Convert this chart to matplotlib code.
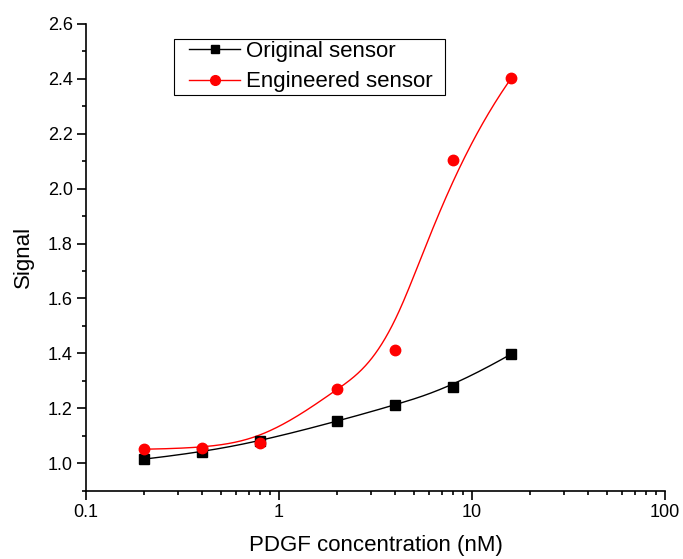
import numpy as np
import matplotlib
matplotlib.use("Agg")
import matplotlib.pyplot as plt
from matplotlib.patches import Rectangle
from matplotlib.ticker import FixedLocator, NullFormatter, MultipleLocator

plt.rcParams['font.family'] = ['Liberation Sans', 'DejaVu Sans']

conc = [0.2, 0.4, 0.8, 2, 4, 8, 16]
original = [1.015, 1.040, 1.080, 1.153, 1.212, 1.278, 1.398]
engineered = [1.051, 1.055, 1.073, 1.270, 1.413, 2.103, 2.403]


def bspline(x, y, n=400):
    # clamped cubic B-spline using the points as control points (log x),
    # like Origin's "B-Spline" line connection
    px = np.log10(np.asarray(x, float))
    py = np.asarray(y, float)
    k = 3
    m = len(px)
    knots = np.concatenate([np.zeros(k), np.arange(m - k + 1), np.full(k, m - k)]).astype(float)
    t = np.linspace(0, m - k, n)
    t[-1] -= 1e-9

    def basis(i, d, t):
        if d == 0:
            return ((knots[i] <= t) & (t < knots[i + 1])).astype(float)
        out = np.zeros_like(t)
        den = knots[i + d] - knots[i]
        if den > 0:
            out += (t - knots[i]) / den * basis(i, d - 1, t)
        den = knots[i + d + 1] - knots[i + 1]
        if den > 0:
            out += (knots[i + d + 1] - t) / den * basis(i + 1, d - 1, t)
        return out

    B = np.array([basis(i, k, t) for i in range(m)])
    return 10 ** (px @ B), py @ B


W, H = 683, 559
fig = plt.figure(figsize=(W / 100, H / 100), dpi=100)
ax = fig.add_axes([0.126, 0.1222, 0.8476, 0.835])

ox, oy = bspline(conc, original)
ex, ey = bspline(conc, engineered)
ax.plot(ox, oy, color='black', lw=1)
ax.plot(ex, ey, color='red', lw=1)
ax.plot(conc, original, 's', color='black', ms=6.5, ls='none')
ax.plot(conc, engineered, 'o', color='red', ms=7.5, ls='none')

# legend handles; frame drawn separately so padding can differ per side
ax.plot([], [], '-s', color='black', lw=1, ms=6, label='Original sensor')
ax.plot([], [], '-o', color='red', lw=1, ms=7, label='Engineered sensor')
ax.legend(loc='upper left', bbox_to_anchor=(189 / W, 1 - 41 / H),
          bbox_transform=fig.transFigure, fontsize=16, frameon=False,
          handlelength=2.3, handletextpad=0.25, borderpad=0,
          labelspacing=0.42, borderaxespad=0)
fig.patches.append(Rectangle((174 / W, 1 - 95 / H), 271 / W, 56 / H,
                             transform=fig.transFigure, fill=False,
                             ec='black', lw=0.8))

ax.set_xscale('log')
ax.set_xlim(0.1, 100)
ax.set_ylim(0.9, 2.6)
ax.set_xticks([0.1, 1, 10, 100])
ax.set_xticklabels(['0.1', '1', '10', '100'])
ax.xaxis.set_minor_locator(FixedLocator(
    [m * d for d in (0.1, 1, 10) for m in range(2, 10)]))
ax.xaxis.set_minor_formatter(NullFormatter())
ax.yaxis.set_major_locator(FixedLocator(np.arange(1.0, 2.61, 0.2)))
ax.yaxis.set_minor_locator(MultipleLocator(0.1))
ax.set_yticklabels(['%.1f' % v for v in np.arange(1.0, 2.61, 0.2)])

for s in ('top', 'right'):
    ax.spines[s].set_visible(False)
for s in ('left', 'bottom'):
    ax.spines[s].set_linewidth(1.2)
ax.tick_params(which='major', direction='out', length=6.5, width=1.2, labelsize=13, pad=3)
ax.tick_params(which='minor', direction='out', length=3, width=1.2)

ax.set_xlabel('PDGF concentration (nM)', fontsize=16, labelpad=10)
ax.set_ylabel('Signal', fontsize=16, labelpad=10)

fig.savefig('out.png', dpi=100)
